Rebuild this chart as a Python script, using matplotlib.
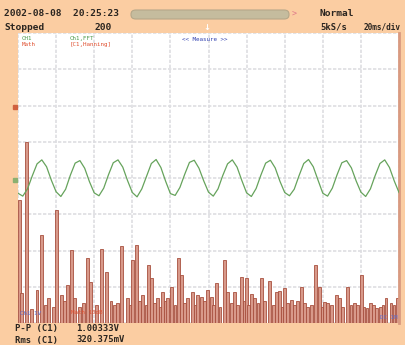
import matplotlib
matplotlib.use("Agg")
import matplotlib.pyplot as plt
from matplotlib.patches import FancyBboxPatch

# ---------------- data ----------------
# Channel 1 waveform (divisions), sampled every 1/8 division across 10 divisions
wave_x_step = 0.125
wave_values = [
    -0.42, -0.50, -0.30, 0.06, 0.39, 0.50, 0.31, -0.06,
    -0.38, -0.51, -0.31, 0.08, 0.41, 0.48, 0.27, -0.10,
    -0.41, -0.49, -0.28, 0.09, 0.42, 0.50, 0.30, -0.07,
    -0.40, -0.52, -0.30, 0.05, 0.40, 0.51, 0.29, -0.09,
    -0.43, -0.48, -0.26, 0.10, 0.43, 0.49, 0.27, -0.08,
    -0.39, -0.50, -0.30, 0.07, 0.39, 0.50, 0.30, -0.07,
    -0.41, -0.51, -0.29, 0.08, 0.41, 0.49, 0.28, -0.09,
    -0.40, -0.49, -0.31, 0.06, 0.40, 0.51, 0.31, -0.06,
    -0.42, -0.50, -0.28, 0.09, 0.42, 0.48, 0.28, -0.08,
    -0.39, -0.51, -0.30, 0.07, 0.40, 0.50, 0.29, -0.08,
    -0.40,
]

# FFT (Math) spectrum lines: position (div) and height above bottom (div)
fft_pos = [0.05, 0.10, 0.23, 0.36, 0.50, 0.62, 0.72, 0.81, 0.93, 1.01,
           1.14, 1.23, 1.31, 1.41, 1.49, 1.62, 1.72, 1.82, 1.91, 2.05,
           2.20, 2.32, 2.44, 2.54, 2.62, 2.71, 2.88, 2.95, 3.01, 3.12,
           3.20, 3.27, 3.36, 3.43, 3.51, 3.58, 3.66, 3.73, 3.80, 3.87,
           3.93, 4.03, 4.12, 4.21, 4.29, 4.38, 4.45, 4.58, 4.65, 4.71,
           4.82, 4.90, 4.97, 5.08, 5.14, 5.21, 5.30, 5.42, 5.50, 5.60,
           5.68, 5.77, 5.86, 5.93, 5.99, 6.06, 6.13, 6.20, 6.30, 6.39,
           6.48, 6.60, 6.70, 6.78, 6.86, 6.93, 6.99, 7.08, 7.17, 7.25,
           7.34, 7.43, 7.51, 7.59, 7.70, 7.80, 7.91, 7.98, 8.04, 8.13,
           8.22, 8.35, 8.43, 8.52, 8.64, 8.74, 8.83, 8.92, 9.01, 9.08,
           9.16, 9.25, 9.34, 9.42, 9.52, 9.58, 9.66, 9.79, 9.87, 9.95]
fft_height = [3.39, 0.83, 5.00, 0.40, 0.91, 2.43, 0.50, 0.69, 0.45, 3.12,
              0.77, 0.60, 1.05, 2.01, 0.69, 0.45, 0.55, 1.79, 1.13, 0.50,
              2.04, 1.41, 0.60, 0.50, 0.55, 2.12, 0.69, 0.50, 1.74, 2.15,
              0.60, 0.77, 0.50, 1.60, 1.24, 0.55, 0.69, 0.45, 0.86, 0.60,
              0.69, 0.99, 0.50, 1.79, 1.32, 0.55, 0.69, 0.86, 0.50, 0.77,
              0.72, 0.60, 0.91, 0.72, 0.50, 1.10, 0.45, 1.74, 0.86, 0.55,
              0.86, 0.50, 1.27, 0.60, 1.24, 0.50, 0.80, 0.69, 0.55, 1.24,
              0.60, 1.16, 0.50, 0.86, 0.88, 0.45, 0.97, 0.55, 0.63, 0.50,
              0.60, 0.99, 0.55, 0.44, 0.50, 1.60, 0.99, 0.45, 0.58, 0.55,
              0.50, 0.77, 0.69, 0.45, 0.99, 0.50, 0.55, 0.50, 1.32, 0.45,
              0.41, 0.55, 0.50, 0.41, 0.45, 0.50, 0.69, 0.55, 0.50, 0.69]

header_left_1 = "2002-08-08  20:25:23"
header_left_2 = "Stopped"
header_mid_2 = "200"
header_right_1 = "Normal"
header_right_2a = "5kS/s"
header_right_2b = "20ms/div"
meas_labels = ["P-P (C1)", "Rms (C1)"]
meas_values = ["1.00333V", "320.375mV"]

# ---------------- figure ----------------
W, H = 406, 345
BG = "#FBCDA2"
fig = plt.figure(figsize=(W / 100, H / 100), dpi=100, facecolor=BG)

def fx(px):
    return px / W

def fy(py):
    return 1 - py / H

L, R, T, B = 18, 399, 33, 323
ax = fig.add_axes([fx(L), fy(B), fx(R) - fx(L), fy(T) - fy(B)])
ax.set_facecolor("white")
ax.set_xlim(0, 10)
ax.set_ylim(-4, 4)
ax.set_xticks(range(0, 11))
ax.set_yticks(range(-4, 5))
ax.tick_params(length=0, labelbottom=False, labelleft=False)
ax.grid(True, color="#DEDEE2", linewidth=1.2, linestyle=(0, (2, 1)))
ax.set_axisbelow(True)
for s in ["top", "left", "bottom"]:
    ax.spines[s].set_visible(False)
ax.spines["right"].set_color("#D99A80")
ax.spines["right"].set_linewidth(2.0)

# FFT bars
ax.bar(fft_pos, fft_height, bottom=-4, width=0.075, color="#D8998A",
       edgecolor="#A8503F", linewidth=0.6, zorder=2)

# waveform
wx = [i * wave_x_step for i in range(len(wave_values))]
ax.plot(wx, wave_values, color="#66A35C", linewidth=0.9, zorder=3)

# channel markers on the left
ax.plot([-0.08], [1.95], marker="s", markersize=3, color="#D0603F",
        clip_on=False, zorder=5)
ax.plot([-0.08], [-0.06], marker="s", markersize=3, color="#8CB070",
        clip_on=False, zorder=5)

# in-plot labels
ax.text(0.1, 3.93, "CH1", color="#4A9A4A", fontsize=4.2, va="top",
        family="DejaVu Sans Mono")
ax.text(0.1, 3.75, "Math", color="#E05030", fontsize=4.2, va="top",
        family="DejaVu Sans Mono")
ax.text(1.35, 3.93, "Ch1,FFT", color="#4A9A4A", fontsize=4.2, va="top",
        family="DejaVu Sans Mono")
ax.text(1.35, 3.75, "[C1,Hanning]", color="#E05030", fontsize=4.2, va="top",
        family="DejaVu Sans Mono")
ax.text(4.3, 3.88, "<< Measure >>", color="#3040B0", fontsize=4.2,
        va="top", family="DejaVu Sans Mono")
ax.text(0.05, -3.75, "Ch1 1V", color="#6070D0", fontsize=4.2,
        va="center", family="DejaVu Sans Mono", zorder=4)
ax.text(1.4, -3.72, "Math 10dB", color="#E05030", fontsize=4.2,
        va="center", family="DejaVu Sans Mono", zorder=4)
ax.text(9.95, -3.85, "DC 1M", color="#6070D0", fontsize=4.2, ha="right",
        va="center", family="DejaVu Sans Mono", zorder=4)

# header
mono = dict(family="DejaVu Sans Mono", fontweight="bold", color="#2A2520")
fig.text(fx(4), fy(13), header_left_1, fontsize=6.8, va="center", **mono)
fig.text(fx(4), fy(27), header_left_2, fontsize=6.8, va="center", **mono)
fig.text(fx(95), fy(27), header_mid_2, fontsize=6.8, va="center", **mono)
fig.text(fx(320), fy(13), header_right_1, fontsize=6.8, va="center", **mono)
fig.text(fx(320), fy(27), header_right_2a, fontsize=6.4, va="center", **mono)
fig.text(fx(364), fy(27), header_right_2b, fontsize=5.6, va="center", **mono)

slider = FancyBboxPatch((fx(131), fy(19)), fx(289) - fx(131), fy(10) - fy(19),
                        boxstyle="round,pad=0,rounding_size=0.012",
                        transform=fig.transFigure, facecolor="#C5BC9E",
                        edgecolor="#B5A789", linewidth=0.8)
fig.patches.append(slider)
fig.text(fx(292), fy(14.5), ">", fontsize=6, color="#E07A8A", va="center",
         family="DejaVu Sans Mono")
fig.text(fx(207), fy(27), "\u2193", fontsize=6, color="white", ha="center",
         va="center", fontweight="bold")

# measurements at bottom
for i, (lab, val) in enumerate(zip(meas_labels, meas_values)):
    y = 328.5 + i * 11.5
    fig.text(fx(15), fy(y), lab, fontsize=6.4, va="center", **mono)
    fig.text(fx(76), fy(y), val, fontsize=6.4, va="center", **mono)

fig.savefig("out.png", dpi=100, facecolor=BG)
